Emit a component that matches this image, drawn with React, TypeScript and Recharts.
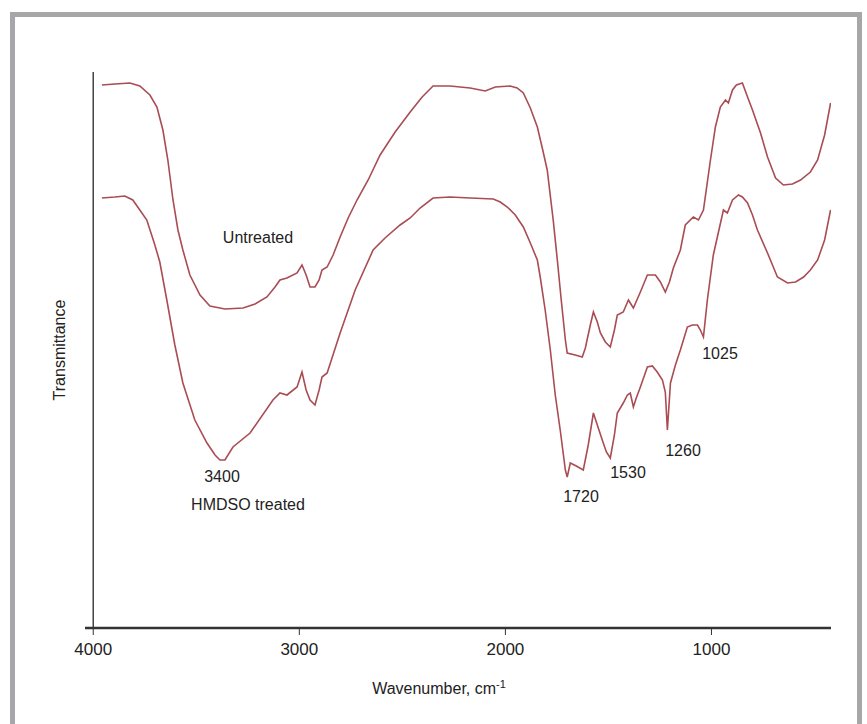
import React from 'react';
import { LineChart, Line, XAxis, YAxis, ReferenceLine } from 'recharts';

// wavenumber (cm-1) / transmittance (arbitrary units)
const untreatedWn = [
  3958, 3895, 3822, 3774, 3725, 3691, 3662, 3638, 3613, 3589, 3565, 3531, 3482, 3434, 3361, 3273,
  3215, 3157, 3118, 3094, 3060, 3011, 2987, 2967, 2948, 2924, 2904, 2890, 2865, 2836, 2802, 2763,
  2720, 2666, 2608, 2535, 2462, 2404, 2351, 2268, 2171, 2098, 2049, 1977, 1943, 1913, 1879, 1845,
  1821, 1797, 1768, 1748, 1729, 1709, 1700, 1661, 1627, 1612, 1588, 1573, 1554, 1539, 1515, 1491,
  1471, 1457, 1428, 1403, 1379, 1345, 1311, 1272, 1248, 1224, 1204, 1185, 1151, 1127, 1088, 1063,
  1039, 1005, 981, 957, 932, 918, 898, 879, 850, 825, 801, 762, 728, 689, 651, 607,
  568, 520, 485, 451, 422,
];
const untreatedT = [
  543, 544, 545, 542, 533, 521, 498, 468, 428, 398, 378, 353, 333, 322, 319, 320,
  324, 331, 341, 348, 350, 355, 363, 353, 341, 341, 348, 358, 361, 373, 391, 410,
  428, 448, 473, 496, 516, 531, 542, 542, 540, 537, 541, 542, 540, 535, 520, 501,
  480, 458, 408, 368, 328, 288, 275, 273, 271, 280, 303, 316, 306, 295, 286, 281,
  298, 313, 316, 328, 320, 336, 353, 353, 346, 336, 346, 360, 378, 403, 411, 408,
  418, 468, 501, 521, 528, 525, 538, 543, 545, 531, 518, 495, 471, 450, 443, 444,
  448, 456, 468, 493, 525,
];

const treatedWn = [
  3958, 3895, 3847, 3808, 3774, 3740, 3701, 3677, 3643, 3604, 3565, 3507, 3448, 3409, 3385, 3361,
  3322, 3239, 3128, 3094, 3060, 3011, 2987, 2967, 2948, 2924, 2904, 2890, 2865, 2802, 2729, 2642,
  2584, 2511, 2462, 2414, 2351, 2268, 2171, 2059, 2025, 1991, 1952, 1913, 1879, 1845, 1831, 1807,
  1782, 1758, 1734, 1709, 1700, 1685, 1656, 1622, 1598, 1573, 1554, 1530, 1510, 1491, 1471, 1457,
  1428, 1408, 1394, 1379, 1365, 1345, 1311, 1287, 1263, 1238, 1224, 1214, 1199, 1175, 1151, 1117,
  1093, 1068, 1054, 1039, 1020, 991, 966, 942, 923, 898, 869, 850, 825, 801, 777, 728,
  714, 680, 631, 592, 553, 520, 485, 451, 422,
];
const treatedT = [
  430, 431, 432, 428, 418, 408, 383, 366, 328, 283, 245, 208, 185, 173, 168, 168,
  181, 195, 228, 235, 233, 241, 256, 238, 228, 223, 238, 251, 255, 295, 338, 378,
  390, 403, 410, 420, 430, 431, 430, 429, 426, 421, 413, 401, 385, 368, 351, 318,
  278, 233, 198, 158, 151, 165, 162, 158, 183, 215, 203, 188, 176, 170, 193, 215,
  225, 233, 235, 221, 230, 241, 261, 262, 256, 248, 236, 198, 245, 263, 278, 301,
  303, 303, 298, 291, 328, 373, 396, 418, 415, 428, 433, 431, 425, 413, 398, 375,
  368, 351, 345, 346, 351, 358, 368, 388, 418,
];

const xTicks = [4000, 3000, 2000, 1000];

const untreated = untreatedWn.map((wn, i) => ({ wn, t: untreatedT[i] }));
const treated = treatedWn.map((wn, i) => ({ wn, t: treatedT[i] }));

const lineColor = '#a94c53';
const font = '"Liberation Sans", Arial, sans-serif';

const Note = ({ x, y, children, size = 16 }: { x: number; y: number; children: React.ReactNode; size?: number }) => (
  <div
    style={{
      position: 'absolute',
      left: x,
      top: y,
      transform: 'translate(-50%, -50%)',
      fontSize: size,
      color: '#222',
      whiteSpace: 'nowrap',
      fontFamily: font,
    }}
  >
    {children}
  </div>
);

export default function App() {
  return (
    <div style={{ position: 'absolute', left: 0, top: 0, width: 867, height: 724, background: '#fff', overflow: 'hidden' }}>
      {/* grey frame, open at the bottom */}
      <div
        style={{
          position: 'absolute',
          left: 10,
          top: 12,
          width: 842,
          height: 720,
          borderTop: '5px solid #a7a7a9',
          borderLeft: '5px solid #a7a7a9',
          borderRight: '5px solid #a7a7a9',
        }}
      />
      <div style={{ position: 'absolute', left: 0, top: 0 }}>
        <LineChart width={867} height={724} margin={{ top: 72, right: 36, bottom: 56, left: 85 }}>
          <XAxis
            type="number"
            dataKey="wn"
            domain={[420, 4040]}
            reversed
            allowDataOverflow
            ticks={xTicks}
            height={40}
            tickSize={7}
            tickMargin={8}
            tick={{ fill: '#222', fontSize: 17, fontFamily: font }}
            axisLine={{ stroke: '#333', strokeWidth: 2.5 }}
            tickLine={{ stroke: '#333' }}
          />
          <YAxis type="number" dataKey="t" domain={[0, 556]} hide />
          <ReferenceLine x={4000} stroke="#444" strokeWidth={1.5} />
          <Line
            data={untreated}
            dataKey="t"
            type="linear"
            stroke={lineColor}
            strokeWidth={1.6}
            dot={false}
            isAnimationActive={false}
          />
          <Line
            data={treated}
            dataKey="t"
            type="linear"
            stroke={lineColor}
            strokeWidth={1.6}
            dot={false}
            isAnimationActive={false}
          />
        </LineChart>
      </div>

      <Note x={258} y={238}>Untreated</Note>
      <Note x={222} y={477}>3400</Note>
      <Note x={248} y={505}>HMDSO treated</Note>
      <Note x={581} y={497}>1720</Note>
      <Note x={628} y={473}>1530</Note>
      <Note x={683} y={451}>1260</Note>
      <Note x={720} y={354}>1025</Note>

      <Note x={439} y={688}>
        Wavenumber, cm<sup style={{ fontSize: 11, verticalAlign: 'super' }}>-1</sup>
      </Note>
      <div
        style={{
          position: 'absolute',
          left: 60,
          top: 350,
          transform: 'translate(-50%, -50%) rotate(-90deg)',
          fontSize: 16,
          color: '#222',
          fontFamily: font,
          whiteSpace: 'nowrap',
        }}
      >
        Transmittance
      </div>
    </div>
  );
}
